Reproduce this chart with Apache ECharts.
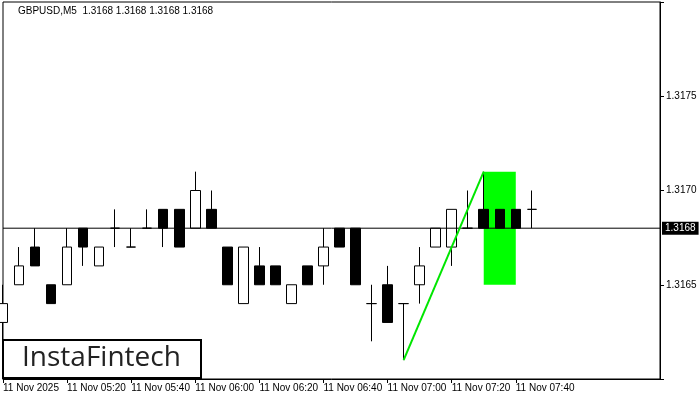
<!DOCTYPE html>
<html><head><meta charset="utf-8">
<script src="https://cdn.jsdelivr.net/npm/echarts@6/dist/echarts.min.js"></script>
<style>html,body{margin:0;padding:0;background:#fff}#c{width:700px;height:400px}</style>
</head><body><div id="c"></div>
<script>
// [open, close, low, high]
const candles = [
 [1.3163,1.3164,1.3162,1.3165],
 [1.3165,1.3166,1.3165,1.3167],
 [1.3167,1.3166,1.3166,1.3168],
 [1.3165,1.3164,1.3164,1.3165],
 [1.3165,1.3167,1.3165,1.3168],
 [1.3168,1.3167,1.3166,1.3168],
 [1.3166,1.3167,1.3166,1.3167],
 [1.3168,1.3168,1.3167,1.3169],
 [1.3167,1.3167,1.3167,1.3168],
 [1.3168,1.3168,1.3168,1.3169],
 [1.3169,1.3168,1.3167,1.3169],
 [1.3169,1.3167,1.3167,1.3169],
 [1.3168,1.3170,1.3168,1.3171],
 [1.3169,1.3168,1.3168,1.3170],
 [1.3167,1.3165,1.3165,1.3167],
 [1.3164,1.3167,1.3164,1.3167],
 [1.3166,1.3165,1.3165,1.3167],
 [1.3166,1.3165,1.3165,1.3166],
 [1.3164,1.3165,1.3164,1.3165],
 [1.3166,1.3165,1.3165,1.3166],
 [1.3166,1.3167,1.3165,1.3168],
 [1.3168,1.3167,1.3167,1.3168],
 [1.3168,1.3165,1.3165,1.3168],
 [1.3164,1.3164,1.3162,1.3165],
 [1.3165,1.3163,1.3163,1.3166],
 [1.3164,1.3164,1.3161,1.3164],
 [1.3165,1.3166,1.3164,1.3167],
 [1.3167,1.3168,1.3167,1.3168],
 [1.3167,1.3169,1.3166,1.3169],
 [1.3168,1.3168,1.3168,1.3170],
 [1.3169,1.3168,1.3168,1.3171],
 [1.3169,1.3168,1.3168,1.3169],
 [1.3169,1.3168,1.3168,1.3169],
 [1.3169,1.3169,1.3168,1.3170]
];
const totalSlots = 42;
const timeLabels = {0:'11 Nov 2025',4:'11 Nov 05:20',8:'11 Nov 05:40',12:'11 Nov 06:00',16:'11 Nov 06:20',20:'11 Nov 06:40',24:'11 Nov 07:00',28:'11 Nov 07:20',32:'11 Nov 07:40'};
const currentPrice = 1.3168;
const trendLine = [[25,1.3161],[30,1.3171]];
const zoneStart = 30, zoneEnd = 32, zoneTop = 1.3171, zoneBottom = 1.3165;
const yTicks = ['1.3165','1.3170','1.3175'];
const titleText = 'GBPUSD,M5  1.3168 1.3168 1.3168 1.3168';

const cats = Array.from({length: totalSlots}, (_, i) => String(i));
const font = 'Liberation Sans';
const chart = echarts.init(document.getElementById('c'), null, {renderer:'canvas'});
chart.setOption({
  animation:false,
  backgroundColor:'#fff',
  grid:{left:3, right:40, top:2, bottom:21, show:true, borderColor:'#000', borderWidth:1},
  xAxis:{type:'category', data:cats, boundaryGap:false,
    axisLine:{lineStyle:{color:'#000'}},
    axisTick:{interval:(i)=>timeLabels[i]!==undefined, length:4, lineStyle:{color:'#000'}},
    axisLabel:{interval:0, formatter:(v,i)=>timeLabels[i]||'', align:'left', color:'#000', fontFamily:font, fontSize:10, margin:4},
    splitLine:{show:false}},
  yAxis:{type:'value', position:'right', min:1.3160, max:1.3180, interval:0.0005,
    axisLine:{show:true, lineStyle:{color:'#000'}},
    axisTick:{show:true, length:4, lineStyle:{color:'#000'}},
    axisLabel:{formatter:v=>{const s=v.toFixed(4);return yTicks.includes(s)?s:'';}, color:'#000', fontFamily:font, fontSize:10, margin:6},
    splitLine:{show:false}},
  series:[
    {type:'line', data:[[0,currentPrice],[totalSlots-1,currentPrice]], symbol:'none', z:4, silent:true,
     lineStyle:{color:'#000', width:1},
     endLabel:{show:true, formatter:currentPrice.toFixed(4), color:'#fff', backgroundColor:'#000', padding:[2,3,1,3], fontFamily:font, fontSize:10, distance:2}},
    {type:'candlestick', data:candles, barWidth:10,
     itemStyle:{color:'#fff', color0:'#000', borderColor:'#000', borderColor0:'#000', borderWidth:1},
     markArea:{silent:true, itemStyle:{color:'#00ff00'}, data:[[{coord:[zoneStart, zoneTop]},{coord:[zoneEnd, zoneBottom]}]]}, z:3},
    {type:'line', data:trendLine, symbol:'none', lineStyle:{color:'#00e600', width:2}, z:5}
  ],
  graphic:[
    {type:'text', left:18, top:6, style:{text:titleText, fill:'#000', font:'10px '+font}},
    {type:'rect', shape:{x:3, y:340, width:198, height:38}, style:{fill:'#fff', stroke:'#000', lineWidth:2}, z:10},
    {type:'text', x:22, y:344, style:{text:'InstaFintech', fill:'#222', font:'28px "Open Sans"'}, z:11}
  ]
});
</script></body></html>
